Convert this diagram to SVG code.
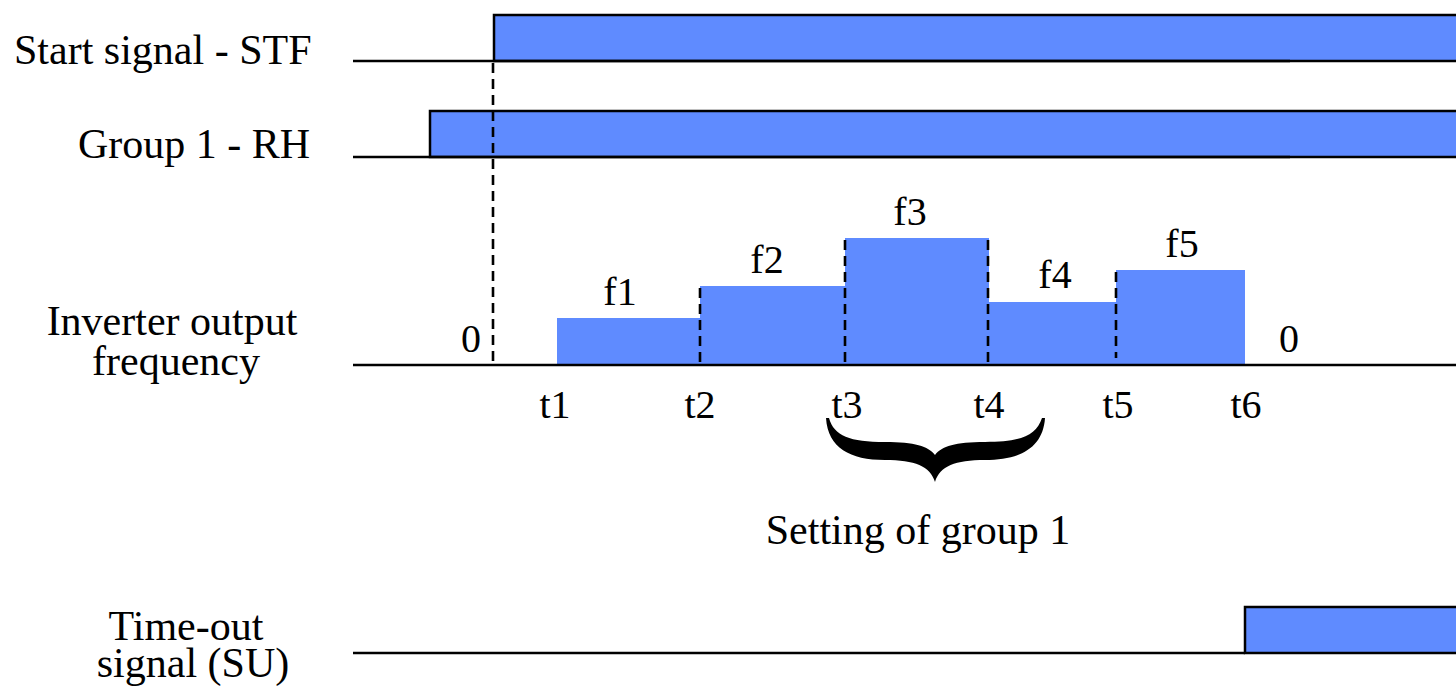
<svg xmlns="http://www.w3.org/2000/svg" width="1456" height="698" viewBox="0 0 1456 698" font-family="'Liberation Serif', 'Times New Roman', 'DejaVu Serif', serif">
<style>
text{font-family:'Liberation Serif','Times New Roman','DejaVu Serif',serif;font-size:40px;fill:#000}
.lbl{font-size:42px}
.mid{text-anchor:middle}
.sig{fill:#5F8BFF;stroke:#000;stroke-width:2.5}
.bar{fill:#5F8BFF;stroke:none}
.base{stroke:#000;stroke-width:2.5;fill:none}
.dash{stroke:#000;stroke-width:2.6;stroke-dasharray:10,6;fill:none}
</style>
<rect width="1456" height="698" fill="#fff"/>
<g id="labels">
<text class="lbl" x="14" y="64">Start signal - STF</text>
<text class="lbl" x="78" y="158">Group 1 - RH</text>
<text class="lbl mid" x="172" y="335">Inverter output</text>
<text class="lbl mid" x="176" y="375">frequency</text>
<text class="lbl mid" x="186" y="640">Time-out</text>
<text class="lbl mid" x="193" y="677">signal (SU)</text>
</g>
<g id="stf">
<rect class="sig" x="494" y="15" width="970" height="46"/>
<line class="base" x1="353" y1="61" x2="1290" y2="61"/>
</g>
<g id="rh">
<rect class="sig" x="430" y="111" width="1034" height="46"/>
<line class="base" x1="353" y1="157" x2="1290" y2="157"/>
</g>
<g id="frequency">
<rect class="bar" x="557" y="318" width="144" height="47"/>
<rect class="bar" x="700" y="286" width="146" height="79"/>
<rect class="bar" x="845" y="238" width="144" height="127"/>
<rect class="bar" x="988" y="302" width="129" height="63"/>
<rect class="bar" x="1116" y="270" width="129" height="95"/>
<line class="base" x1="353" y1="365" x2="1456" y2="365"/>
<text class="mid" x="471" y="352">0</text>
<text class="mid" x="1289" y="352">0</text>
<text class="mid" x="620" y="305">f1</text>
<text class="mid" x="767" y="273">f2</text>
<text class="mid" x="910" y="225">f3</text>
<text class="mid" x="1055" y="288">f4</text>
<text class="mid" x="1182" y="257">f5</text>
<text class="mid" x="555" y="418">t1</text>
<text class="mid" x="700" y="418">t2</text>
<text class="mid" x="847" y="418">t3</text>
<text class="mid" x="989" y="418">t4</text>
<text class="mid" x="1118" y="418">t5</text>
<text class="mid" x="1246" y="418">t6</text>
</g>
<g id="timeout">
<rect class="sig" x="1245" y="607" width="220" height="46"/>
<line class="base" x1="353" y1="653" x2="1245" y2="653"/>
</g>
<g id="connectors">
<line class="dash" x1="493" y1="63" x2="493" y2="365"/>
<line class="dash" x1="700" y1="288" x2="700" y2="362"/>
<line class="dash" x1="845" y1="240" x2="845" y2="365"/>
<line class="dash" x1="988" y1="240" x2="988" y2="365"/>
<line class="dash" x1="1116" y1="272" x2="1116" y2="358"/>
</g>
<g id="brace">
<path fill="#000" d="M826 418 C828 448 850 460 885 460 C915 460 930 466 935 482 C940 466 955 460 985 460 C1020 460 1043 448 1045 418 L1042 418 C1036 436 1020 442 985 442 C955 442 942 446 935 455 C928 446 915 442 885 442 C850 442 834 436 829 418 Z"/>
<text class="lbl mid" x="918" y="544">Setting of group 1</text>
</g>
</svg>
